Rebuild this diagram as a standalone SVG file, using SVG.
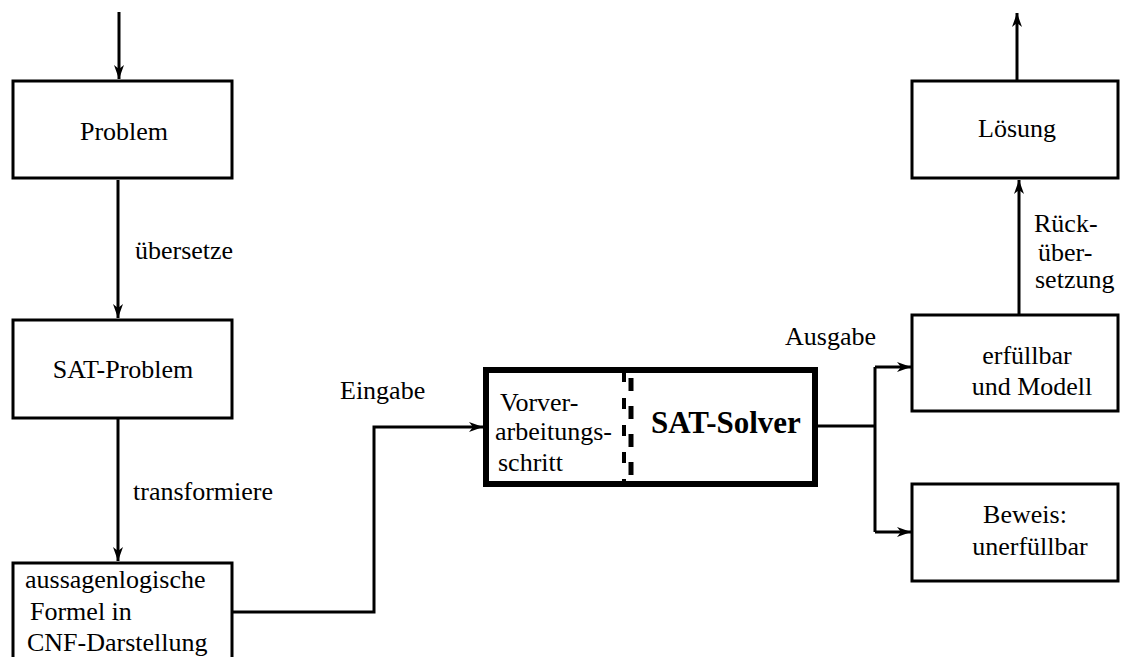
<svg xmlns="http://www.w3.org/2000/svg" width="1125" height="657" viewBox="0 0 1125 657">
  <style>
    .box { fill: #fff; stroke: #000; stroke-width: 3; }
    .solver { fill: #fff; stroke: #000; stroke-width: 6; }
    .wire { fill: none; stroke: #000; stroke-width: 3; }
    .arrow { fill: none; stroke: #000; stroke-width: 3; marker-end: url(#head); }
    text { font-family: "Liberation Serif", "Times New Roman", Times, serif; font-size: 26px; fill: #000; }
    .m { text-anchor: middle; }
    .bold { font-weight: bold; font-size: 31px; }
  </style>
  <defs>
    <marker id="head" markerUnits="userSpaceOnUse" markerWidth="15" markerHeight="12" refX="14" refY="5" orient="auto" viewBox="0 0 15 10">
      <path d="M0,0 L14,5 L0,10 L4,5 Z" fill="#000"/>
    </marker>
  </defs>

  <!-- connectors and their labels -->
  <g id="connectors">
    <line class="arrow" x1="119" y1="12" x2="119" y2="79"/>
    <line class="arrow" x1="118" y1="180" x2="118" y2="318"/>
    <line class="arrow" x1="118" y1="419" x2="118" y2="561"/>
    <polyline class="arrow" points="233,612 374,612 374,427 483,427"/>
    <line class="wire" x1="818" y1="426" x2="875" y2="426"/>
    <line class="wire" x1="875" y1="367" x2="875" y2="532"/>
    <line class="arrow" x1="875" y1="367" x2="911" y2="367"/>
    <line class="arrow" x1="875" y1="532" x2="911" y2="532"/>
    <line class="arrow" x1="1019" y1="314" x2="1019" y2="180"/>
    <line class="arrow" x1="1017" y1="80" x2="1017" y2="13"/>
    <text x="135" y="259">übersetze</text>
    <text x="133" y="500">transformiere</text>
    <text x="340" y="399">Eingabe</text>
    <text x="785" y="345">Ausgabe</text>
    <text x="1034" y="232">Rück-</text>
    <text x="1038" y="261">über-</text>
    <text x="1035" y="288">setzung</text>
  </g>

  <g id="problem">
    <rect class="box" x="13" y="81" width="219" height="97"/>
    <text class="m" x="124" y="140">Problem</text>
  </g>

  <g id="sat-problem">
    <rect class="box" x="13" y="320" width="219" height="98"/>
    <text class="m" x="123" y="378">SAT-Problem</text>
  </g>

  <g id="cnf-formula">
    <rect class="box" x="13" y="563" width="219" height="100"/>
    <text x="25" y="588">aussagenlogische</text>
    <text x="30" y="620">Formel in</text>
    <text x="27" y="651">CNF-Darstellung</text>
  </g>

  <g id="sat-solver">
    <rect class="solver" x="486" y="370" width="329" height="114"/>
    <!-- divider between preprocessing and solver core -->
    <line x1="624" y1="371" x2="624" y2="483" stroke="#000" stroke-width="4" stroke-dasharray="11 16"/>
    <line x1="631" y1="378" x2="631" y2="476" stroke="#000" stroke-width="5" stroke-dasharray="13 15"/>
    <text x="500" y="411">Vorver-</text>
    <text x="495" y="440">arbeitungs-</text>
    <text x="498" y="471">schritt</text>
    <text class="bold" x="651" y="433">SAT-Solver</text>
  </g>

  <g id="loesung">
    <rect class="box" x="912" y="81" width="206" height="97"/>
    <text class="m" x="1017" y="137">Lösung</text>
  </g>

  <g id="erfuellbar">
    <rect class="box" x="912" y="315" width="206" height="96"/>
    <text class="m" x="1027" y="364">erfüllbar</text>
    <text class="m" x="1032" y="395">und Modell</text>
  </g>

  <g id="beweis">
    <rect class="box" x="912" y="484" width="206" height="97"/>
    <text class="m" x="1025" y="523">Beweis:</text>
    <text class="m" x="1030" y="555">unerfüllbar</text>
  </g>
</svg>
